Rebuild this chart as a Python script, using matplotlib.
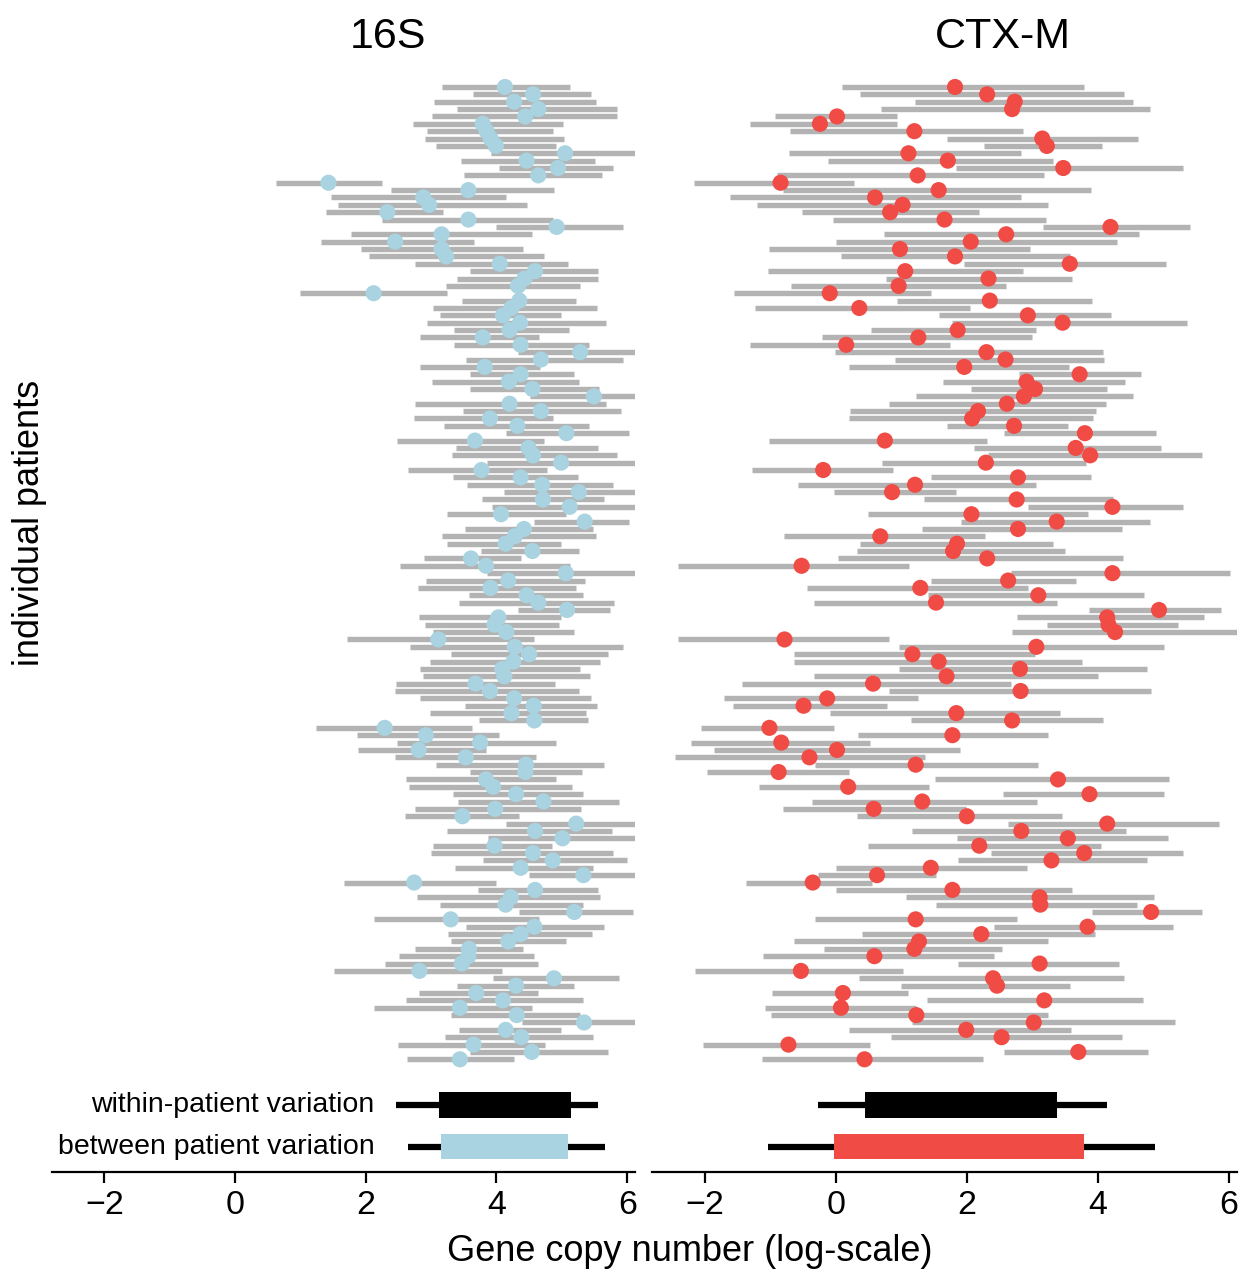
import numpy as np
import matplotlib
matplotlib.use("Agg")
import matplotlib.pyplot as plt

plt.rcParams['font.family'] = ['Liberation Sans', 'DejaVu Sans']

# 16S: per-patient range (low, high) and patient mean, top row first
lo_16s = [3.17, 3.64, 3.04, 3.40, 3.01, 2.72, 2.94, 2.91, 3.08, 3.91,
          3.46, 4.04, 3.50, 0.63, 2.39, 1.47, 1.58, 1.39, 2.25, 4.00,
          1.77, 1.31, 1.92, 2.05, 2.76, 3.59, 3.40, 3.23, 0.99, 3.48,
          3.03, 3.13, 2.94, 3.35, 2.83, 3.35, 4.33, 3.54, 2.83, 3.59,
          3.02, 3.59, 4.51, 2.76, 3.49, 2.74, 3.19, 4.14, 2.48, 3.38,
          3.32, 3.85, 2.64, 3.34, 3.55, 4.11, 3.78, 3.93, 3.25, 4.58,
          3.52, 3.16, 3.25, 3.77, 2.89, 2.53, 3.85, 2.92, 2.80, 3.58,
          3.43, 4.33, 2.82, 2.91, 3.03, 1.72, 2.68, 3.31, 2.98, 2.83,
          2.88, 2.46, 2.44, 2.83, 3.52, 2.99, 3.74, 1.24, 1.87, 2.48,
          1.88, 2.44, 3.08, 3.59, 2.62, 2.66, 3.33, 3.41, 2.75, 2.60,
          4.14, 3.24, 3.87, 3.03, 3.00, 3.80, 3.37, 4.50, 1.66, 3.71,
          2.78, 3.13, 4.35, 2.13, 3.53, 3.26, 3.31, 2.75, 2.51, 2.29,
          1.52, 3.95, 3.40, 2.82, 2.62, 2.13, 3.30, 4.39, 3.42, 3.22,
          2.50, 3.60, 2.63]
hi_16s = [5.12, 5.45, 5.52, 5.85, 5.85, 5.02, 4.86, 5.04, 4.91, 6.20,
          5.51, 5.79, 5.62, 2.25, 4.88, 4.14, 4.46, 3.18, 4.86, 5.94,
          4.54, 3.65, 4.40, 4.72, 5.10, 5.56, 5.56, 5.28, 3.24, 5.21,
          5.54, 4.99, 5.67, 5.11, 4.65, 5.42, 6.20, 5.94, 4.66, 5.18,
          5.26, 5.57, 6.20, 5.68, 5.90, 4.86, 5.42, 6.03, 4.72, 5.55,
          5.85, 6.20, 4.78, 5.24, 5.79, 6.20, 5.65, 6.20, 5.07, 6.03,
          5.48, 5.53, 4.98, 5.26, 4.38, 5.12, 6.20, 5.36, 5.22, 5.33,
          5.80, 5.74, 4.99, 4.95, 5.18, 4.58, 5.93, 5.70, 5.59, 5.28,
          5.43, 4.90, 5.26, 5.45, 5.54, 5.37, 5.40, 3.63, 4.04, 4.91,
          3.84, 4.60, 5.65, 5.31, 4.91, 5.16, 5.33, 5.88, 5.29, 4.34,
          6.20, 5.77, 6.20, 4.85, 5.79, 6.00, 5.48, 6.20, 3.99, 5.55,
          5.59, 5.32, 6.09, 4.65, 5.64, 5.46, 5.06, 4.40, 4.57, 4.63,
          4.08, 5.87, 5.19, 4.64, 5.32, 4.54, 5.28, 6.20, 4.98, 5.47,
          4.74, 5.70, 4.27]
mid_16s = [4.13, 4.56, 4.27, 4.64, 4.44, 3.79, 3.85, 3.91, 3.99, 5.05,
           4.46, 4.94, 4.64, 1.43, 3.57, 2.88, 2.97, 2.33, 3.57, 4.92,
           3.16, 2.45, 3.16, 3.23, 4.05, 4.59, 4.43, 4.33, 2.12, 4.35,
           4.23, 4.10, 4.36, 4.20, 3.79, 4.37, 5.28, 4.68, 3.82, 4.37,
           4.19, 4.55, 5.49, 4.20, 4.68, 3.90, 4.32, 5.07, 3.67, 4.49,
           4.56, 4.99, 3.77, 4.37, 4.70, 5.26, 4.71, 5.12, 4.07, 5.35,
           4.42, 4.28, 4.14, 4.55, 3.61, 3.84, 5.06, 4.18, 3.91, 4.46,
           4.64, 5.08, 4.03, 3.97, 4.15, 3.11, 4.28, 4.50, 4.26, 4.09,
           4.12, 3.68, 3.90, 4.27, 4.57, 4.23, 4.58, 2.29, 2.92, 3.75,
           2.81, 3.53, 4.45, 4.44, 3.84, 3.95, 4.30, 4.72, 3.98, 3.48,
           5.22, 4.59, 5.01, 3.97, 4.56, 4.86, 4.37, 5.33, 2.74, 4.59,
           4.22, 4.14, 5.19, 3.30, 4.58, 4.37, 4.18, 3.58, 3.57, 3.47,
           2.82, 4.88, 4.30, 3.69, 4.10, 3.44, 4.31, 5.34, 4.14, 4.38,
           3.65, 4.54, 3.44]

# CTX-M
lo_ctx = [0.10, 0.37, 1.21, 0.69, -0.93, -1.30, -0.70, 1.70, 2.26, -0.71,
          -0.11, 1.83, -0.89, -2.16, -0.80, -1.61, -1.20, -0.52, -0.04, 3.16,
          0.73, 0.01, -1.01, 0.08, 1.96, -1.03, 0.76, -0.68, -1.55, 0.93,
          -1.23, 1.57, 1.77, 0.54, -0.21, -1.30, -0.01, 0.90, 0.20, 2.80,
          1.63, 2.07, 1.22, 0.81, 0.22, 0.20, 1.70, 2.57, -1.01, 2.11,
          2.33, 0.71, -1.27, 1.45, -0.57, -0.03, 1.35, 2.93, 0.49, 1.91,
          1.31, -0.79, 0.37, 0.32, 0.04, -2.41, 2.68, 1.45, -0.43, 1.41,
          -0.33, 3.86, 2.77, 3.22, 2.69, -2.41, 0.96, -0.63, -0.63, 0.96,
          -0.33, -1.43, 0.82, -1.70, -1.57, -0.08, 1.15, -2.06, 0.34, -2.21,
          -1.86, -2.45, -0.31, -1.96, 1.51, -1.17, 2.55, -0.36, -0.81, 0.33,
          2.63, 1.16, 1.85, 0.49, 2.37, 1.86, 0.01, -0.27, -1.37, 0.00,
          1.07, 1.53, 3.91, -0.32, 2.41, 0.40, -0.64, -0.18, -1.11, 1.86,
          -2.14, 0.36, 0.99, -0.97, 1.39, -1.08, -0.98, 1.16, 0.21, 0.84,
          -2.03, 2.56, -1.12]
hi_ctx = [3.79, 4.39, 4.54, 4.80, 0.93, 0.93, 2.85, 4.61, 4.06, 2.82,
          3.32, 5.30, 3.17, 0.28, 3.89, 2.83, 3.23, 2.19, 3.21, 5.40,
          4.62, 4.29, 2.96, 3.57, 5.04, 2.85, 3.61, 2.60, 1.45, 3.91,
          2.05, 4.20, 5.36, 3.06, 2.99, 1.75, 4.07, 4.09, 3.56, 4.65,
          4.41, 4.13, 4.54, 4.12, 3.97, 3.93, 3.55, 4.88, 2.30, 4.96,
          5.59, 3.81, 0.88, 3.90, 3.05, 1.83, 4.23, 5.29, 3.85, 4.79,
          4.37, 2.27, 3.31, 3.50, 4.38, 1.12, 6.01, 3.67, 2.94, 4.70,
          3.38, 5.88, 5.62, 5.22, 6.20, 0.81, 5.00, 3.04, 3.76, 4.74,
          4.00, 2.67, 4.81, 1.26, 0.78, 3.42, 4.07, -0.03, 3.24, 0.53,
          1.90, 1.36, 3.08, 0.20, 5.09, 1.42, 5.00, 3.07, 1.98, 3.45,
          5.84, 4.42, 5.06, 4.05, 5.29, 4.75, 2.92, 1.53, 0.56, 3.60,
          4.86, 4.59, 5.59, 2.76, 5.15, 3.95, 3.24, 2.54, 2.42, 4.32,
          1.02, 4.40, 3.58, 1.10, 4.69, 1.23, 3.23, 5.18, 3.59, 4.36,
          0.52, 4.77, 2.24]
mid_ctx = [1.82, 2.31, 2.73, 2.69, 0.02, -0.24, 1.20, 3.15, 3.22, 1.11,
           1.71, 3.47, 1.25, -0.84, 1.57, 0.60, 1.02, 0.83, 1.66, 4.19,
           2.60, 2.06, 0.98, 1.82, 3.57, 1.06, 2.33, 0.96, -0.09, 2.35,
           0.36, 2.93, 3.46, 1.86, 1.26, 0.16, 2.30, 2.59, 1.96, 3.72,
           2.91, 3.04, 2.87, 2.61, 2.17, 2.08, 2.72, 3.80, 0.75, 3.66,
           3.88, 2.29, -0.19, 2.78, 1.21, 0.86, 2.76, 4.22, 2.07, 3.37,
           2.78, 0.68, 1.85, 1.79, 2.31, -0.52, 4.22, 2.63, 1.29, 3.09,
           1.53, 4.93, 4.14, 4.16, 4.26, -0.78, 3.06, 1.17, 1.57, 2.81,
           1.69, 0.57, 2.82, -0.13, -0.49, 1.84, 2.69, -1.01, 1.78, -0.83,
           0.02, -0.40, 1.22, -0.87, 3.39, 0.19, 3.87, 1.32, 0.58, 2.00,
           4.14, 2.83, 3.54, 2.19, 3.79, 3.29, 1.45, 0.63, -0.35, 1.78,
           3.11, 3.12, 4.81, 1.22, 3.84, 2.22, 1.27, 1.20, 0.59, 3.11,
           -0.53, 2.40, 2.46, 0.11, 3.18, 0.08, 1.23, 3.02, 1.99, 2.53,
           -0.72, 3.70, 0.44]

# summary: whisker low/high, box low/high  -> [within, between]
whisk_16s = [(2.46, 5.55), (2.65, 5.66)]
box_16s = [(3.12, 5.14), (3.15, 5.10)]
whisk_ctx = [(-0.27, 4.13), (-1.03, 4.87)]
box_ctx = [(0.45, 3.37), (-0.02, 3.78)]
summary_labels = ['within-patient variation', 'between patient variation']

gray = '#b3b3b3'
blue = '#a9d3e0'
red = '#f04b45'

fig = plt.figure(figsize=(12.42, 12.72), dpi=100)
ax1 = fig.add_axes([0.0419, 0.0786, 0.4694, 0.8617])
ax2 = fig.add_axes([0.5250, 0.0786, 0.4710, 0.8617])

summary_y = [138.2, 143.9]


def draw_panel(ax, lo, hi, mid, dot_color, whisk, box, title, title_x):
    rows = np.arange(len(mid))
    ax.hlines(rows, lo, hi, color=gray, lw=3.9, capstyle='butt', zorder=1)
    ax.scatter(mid, rows, s=135, color=dot_color, edgecolors='none', zorder=3)
    box_colors = ['black', dot_color]
    for k in range(2):
        y = summary_y[k]
        ax.hlines(y, whisk[k][0], whisk[k][1], color='black', lw=4.5,
                  capstyle='butt', zorder=2)
        ax.barh(y, box[k][1] - box[k][0], left=box[k][0], height=3.4,
                color=box_colors[k], zorder=3)
    ax.set_xlim(-2.8, 6.12)
    ax.set_ylim(147.3, -1.5)
    ax.set_xticks([-2, 0, 2, 4, 6])
    ax.set_yticks([])
    for s in ['top', 'right', 'left']:
        ax.spines[s].set_visible(False)
    ax.spines['bottom'].set_linewidth(1.6)
    ax.tick_params(axis='x', direction='out', length=8, width=1.6,
                   labelsize=24.5, pad=5)
    ax.text(title_x, 1.0 + 39 / 1096, title, transform=ax.transAxes,
            ha='center', va='center', fontsize=31)


draw_panel(ax1, lo_16s, hi_16s, mid_16s, blue, whisk_16s, box_16s, '16S', 0.576)
draw_panel(ax2, lo_ctx, hi_ctx, mid_ctx, red, whisk_ctx, box_ctx, 'CTX-M', 0.600)

for k in range(2):
    ax1.text(2.13, summary_y[k], summary_labels[k], ha='right', va='center',
             fontsize=20.5)

fig.text(0.0241, 0.589, 'individual patients', rotation=90, ha='center',
         va='center', fontsize=26)
fig.text(0.5556, 0.0165, 'Gene copy number (log-scale)', ha='center',
         va='center', fontsize=26)

fig.savefig('out.png', dpi=100)
